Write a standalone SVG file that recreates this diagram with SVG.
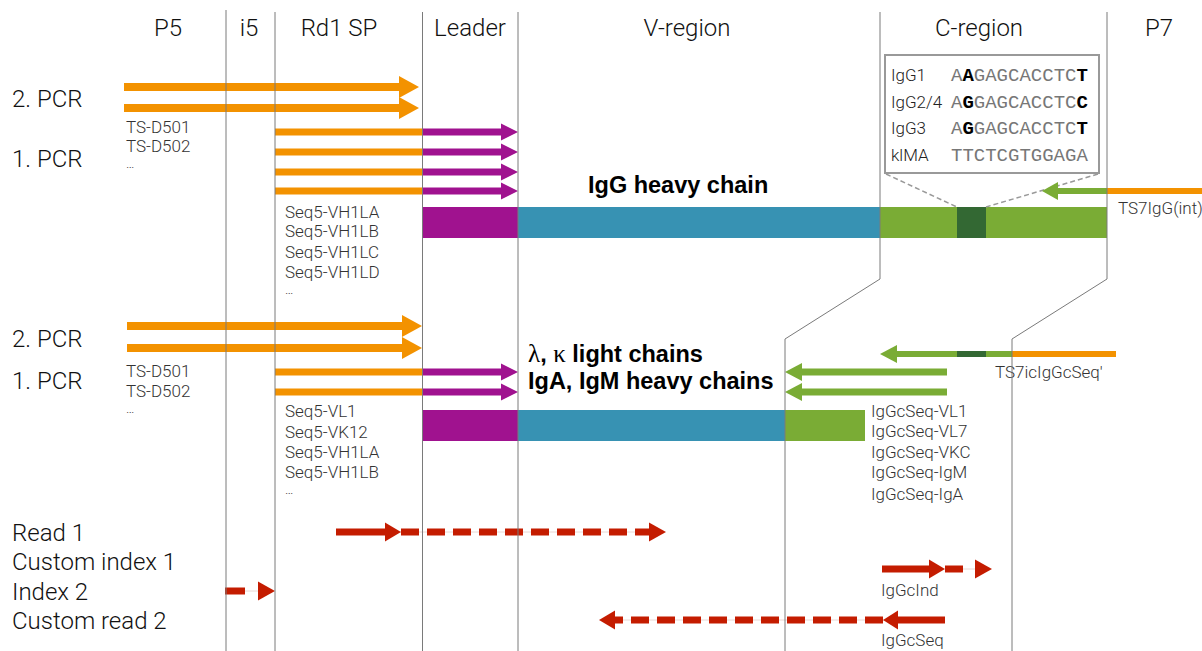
<svg xmlns="http://www.w3.org/2000/svg" width="1202" height="651" viewBox="0 0 1202 651">
<style>
.hdr{font-family:Roboto,"Liberation Sans",sans-serif;font-weight:300;font-size:24px;fill:#111;text-anchor:middle}
.lbl{font-family:Roboto,"Liberation Sans",sans-serif;font-weight:300;font-size:24px;fill:#111}
.sm{font-family:Roboto,"Liberation Sans",sans-serif;font-weight:300;font-size:17px;fill:#333}
.el{font-family:Roboto,"Liberation Sans",sans-serif;font-weight:300;font-size:13px;fill:#333}
.bold{font-family:"Liberation Sans",Arial,sans-serif;font-weight:bold;font-size:23.5px;fill:#000}
.ins{font-family:Roboto,"Liberation Sans",sans-serif;font-weight:300;font-size:17px;fill:#222}
.seq{font-family:"Liberation Mono","Courier New",monospace;font-size:19px;fill:#777}
.b{font-weight:bold;fill:#000}
.lane{fill:none;stroke:#7a7a7a;stroke-width:1}
.or{stroke:#F39200;fill:none}
.pu{stroke:#A0128F;fill:none}
.gr{stroke:#7AAC35;fill:none}
.dg{stroke:#336833;fill:none}
.rd{stroke:#C41C00;fill:none;stroke-width:7}
.dash{stroke-dasharray:18 8}
.hor{fill:#F39200}.hpu{fill:#A0128F}.hgr{fill:#7AAC35}.hrd{fill:#C41C00}
.faint{stroke:#ead6d2;stroke-width:1;fill:none}
</style>

<g id="headers">
<text class="hdr" x="168" y="36">P5</text>
<text class="hdr" x="249" y="36">i5</text>
<text class="hdr" x="339" y="36">Rd1 SP</text>
<text class="hdr" x="470" y="36">Leader</text>
<text class="hdr" x="687" y="36">V-region</text>
<text class="hdr" x="979" y="36">C-region</text>
<text class="hdr" x="1159" y="36">P7</text>
</g>

<g id="row-labels">
<text class="lbl" x="12" y="107">2. PCR</text>
<text class="lbl" x="12" y="167">1. PCR</text>
<text class="lbl" x="12" y="347">2. PCR</text>
<text class="lbl" x="12" y="389">1. PCR</text>
<text class="lbl" x="12" y="541">Read 1</text>
<text class="lbl" x="12" y="570">Custom index 1</text>
<text class="lbl" x="12" y="600">Index 2</text>
<text class="lbl" x="12" y="629">Custom read 2</text>
</g>

<g id="igg-chain">
<rect x="423" y="207" width="95" height="31" fill="#A0128F"/>
<rect x="518" y="207" width="362" height="31" fill="#3792B3"/>
<rect x="880" y="207" width="227" height="31" fill="#7AAC35"/>
<rect x="957" y="207" width="29" height="31" fill="#336833"/>
<text class="bold" x="588" y="193">IgG heavy chain</text>
</g>

<g id="inset">
<line x1="886" y1="174" x2="957" y2="207" stroke="#999" stroke-width="1.5" stroke-dasharray="5 3"/>
<line x1="1098" y1="174" x2="986" y2="207" stroke="#999" stroke-width="1.5" stroke-dasharray="5 3"/>
<rect x="885" y="55" width="214" height="118" fill="#fff" stroke="#999" stroke-width="2"/>
<text class="ins" x="891" y="81">IgG1</text>
<text class="ins" x="891" y="108">IgG2/4</text>
<text class="ins" x="891" y="134">IgG3</text>
<text class="ins" x="891" y="161">klMA</text>
<text class="seq" x="951" y="81">A<tspan class="b">A</tspan>GAGCACCTC<tspan class="b">T</tspan></text>
<text class="seq" x="951" y="108">A<tspan class="b">G</tspan>GAGCACCTC<tspan class="b">C</tspan></text>
<text class="seq" x="951" y="134">A<tspan class="b">G</tspan>GAGCACCTC<tspan class="b">T</tspan></text>
<text class="seq" x="951" y="161">TTCTCGTGGAGA</text>
</g>

<g id="light-chain">
<rect x="423" y="410" width="95" height="31" fill="#A0128F"/>
<rect x="518" y="410" width="267" height="31" fill="#3792B3"/>
<rect x="785" y="410" width="80" height="31" fill="#7AAC35"/>
<text class="bold" x="528" y="362"><tspan font-family="'Liberation Serif',serif" font-weight="normal" font-size="25px">λ</tspan>, <tspan font-family="'Liberation Serif',serif" font-weight="normal" font-size="25px">κ</tspan> light chains</text>
<text class="bold" x="528" y="389">IgA, IgM heavy chains</text>
</g>

<g id="primer-labels">
<text class="sm" x="126" y="133">TS-D501</text>
<text class="sm" x="126" y="152">TS-D502</text>
<text class="el" x="126" y="168">…</text>
<text class="sm" x="285" y="218">Seq5-VH1LA</text>
<text class="sm" x="285" y="237">Seq5-VH1LB</text>
<text class="sm" x="285" y="258">Seq5-VH1LC</text>
<text class="sm" x="285" y="278">Seq5-VH1LD</text>
<text class="el" x="285" y="294">…</text>
<text class="sm" x="1118" y="214" font-size="16.5">TS7IgG(int)</text>
<text class="sm" x="126" y="377">TS-D501</text>
<text class="sm" x="126" y="397">TS-D502</text>
<text class="el" x="126" y="413">…</text>
<text class="sm" x="285" y="417">Seq5-VL1</text>
<text class="sm" x="285" y="438">Seq5-VK12</text>
<text class="sm" x="285" y="458">Seq5-VH1LA</text>
<text class="sm" x="285" y="478">Seq5-VH1LB</text>
<text class="el" x="285" y="494">…</text>
<text class="sm" x="995" y="378">TS7icIgGcSeq'</text>
<text class="sm" x="871" y="417">IgGcSeq-VL1</text>
<text class="sm" x="871" y="437">IgGcSeq-VL7</text>
<text class="sm" x="871" y="458">IgGcSeq-VKC</text>
<text class="sm" x="871" y="478">IgGcSeq-IgM</text>
<text class="sm" x="871" y="500">IgGcSeq-IgA</text>
<text class="sm" x="881" y="596">IgGcInd</text>
<text class="sm" x="881" y="646">IgGcSeq</text>
</g>

<g id="connectors">
<line class="or" x1="124" y1="87" x2="401" y2="87" stroke-width="8"/>
<path class="hor" d="M399 76 L419 87 L399 98 Z"/>
<line class="or" x1="124" y1="108" x2="401" y2="108" stroke-width="8"/>
<path class="hor" d="M399 97 L419 108 L399 119 Z"/>
<g stroke-width="7">
<line class="or" x1="275" y1="132" x2="423" y2="132"/><line class="pu" x1="423" y1="132" x2="503" y2="132"/>
<line class="or" x1="275" y1="152" x2="423" y2="152"/><line class="pu" x1="423" y1="152" x2="503" y2="152"/>
<line class="or" x1="275" y1="172" x2="423" y2="172"/><line class="pu" x1="423" y1="172" x2="503" y2="172"/>
<line class="or" x1="275" y1="191" x2="423" y2="191"/><line class="pu" x1="423" y1="191" x2="503" y2="191"/>
</g>
<path class="hpu" d="M501 123.5 L518 132 L501 140.5 Z"/>
<path class="hpu" d="M501 143.5 L518 152 L501 160.5 Z"/>
<path class="hpu" d="M501 163.5 L518 172 L501 180.5 Z"/>
<path class="hpu" d="M501 182.5 L518 191 L501 199.5 Z"/>
<line class="or" x1="1107" y1="191" x2="1202" y2="191" stroke-width="6"/>
<line class="gr" x1="1056" y1="191" x2="1107" y2="191" stroke-width="6"/>
<path class="hgr" d="M1058 182 L1042 191 L1058 200 Z"/>

<line class="or" x1="127" y1="326" x2="404" y2="326" stroke-width="8"/>
<path class="hor" d="M402 315 L422 326 L402 337 Z"/>
<line class="or" x1="127" y1="348" x2="404" y2="348" stroke-width="8"/>
<path class="hor" d="M402 337 L422 348 L402 359 Z"/>
<g stroke-width="7">
<line class="or" x1="275" y1="372" x2="423" y2="372"/><line class="pu" x1="423" y1="372" x2="503" y2="372"/>
<line class="or" x1="275" y1="392" x2="423" y2="392"/><line class="pu" x1="423" y1="392" x2="503" y2="392"/>
</g>
<path class="hpu" d="M501 363.5 L518 372 L501 380.5 Z"/>
<path class="hpu" d="M501 383.5 L518 392 L501 400.5 Z"/>
<line class="or" x1="1012" y1="354" x2="1116" y2="354" stroke-width="6"/>
<line class="gr" x1="895" y1="354" x2="1012" y2="354" stroke-width="6"/>
<line class="dg" x1="957" y1="354" x2="986" y2="354" stroke-width="6"/>
<path class="hgr" d="M897 345 L880 354 L897 363 Z"/>
<g stroke-width="7">
<line class="gr" x1="800" y1="372" x2="947" y2="372"/>
<line class="gr" x1="800" y1="392" x2="947" y2="392"/>
</g>
<path class="hgr" d="M802 363 L785 372 L802 381 Z"/>
<path class="hgr" d="M802 383 L785 392 L802 401 Z"/>

<line class="faint" x1="400" y1="532" x2="650" y2="532"/>
<line class="rd" x1="336" y1="532" x2="387" y2="532"/>
<path class="hrd" d="M385 522.5 L401 532 L385 541.5 Z"/>
<line class="rd dash" x1="401" y1="532" x2="651" y2="532"/>
<path class="hrd" d="M649 522.5 L666 532 L649 541.5 Z"/>

<line class="faint" x1="945" y1="569" x2="976" y2="569"/>
<line class="rd" x1="882" y1="569" x2="931" y2="569"/>
<path class="hrd" d="M929 559.5 L945 569 L929 578.5 Z"/>
<line class="rd" x1="945" y1="569" x2="963" y2="569"/>
<path class="hrd" d="M975 559.5 L992 569 L975 578.5 Z"/>

<line class="faint" x1="225" y1="591" x2="259" y2="591"/>
<line class="rd" x1="225" y1="591" x2="245" y2="591"/>
<path class="hrd" d="M258 581.5 L275 591 L258 600.5 Z"/>

<line class="faint" x1="614" y1="620" x2="884" y2="620"/>
<line class="rd" x1="945" y1="620" x2="896" y2="620"/>
<path class="hrd" d="M898 610.5 L883 620 L898 629.5 Z"/>
<line class="rd dash" x1="883" y1="620" x2="613" y2="620"/>
<path class="hrd" d="M615 610.5 L599 620 L615 629.5 Z"/>
</g>

<g id="lanes">
<line class="lane" x1="226" y1="10" x2="226" y2="651"/>
<line class="lane" x1="275" y1="12" x2="275" y2="651"/>
<line class="lane" x1="422.5" y1="12" x2="422.5" y2="651"/>
<line class="lane" x1="518" y1="12" x2="518" y2="651"/>
<polyline class="lane" points="880,12 880,279 785,339 785,651"/>
<polyline class="lane" points="1107,12 1107,279 1012,339 1012,651"/>
</g>
</svg>
